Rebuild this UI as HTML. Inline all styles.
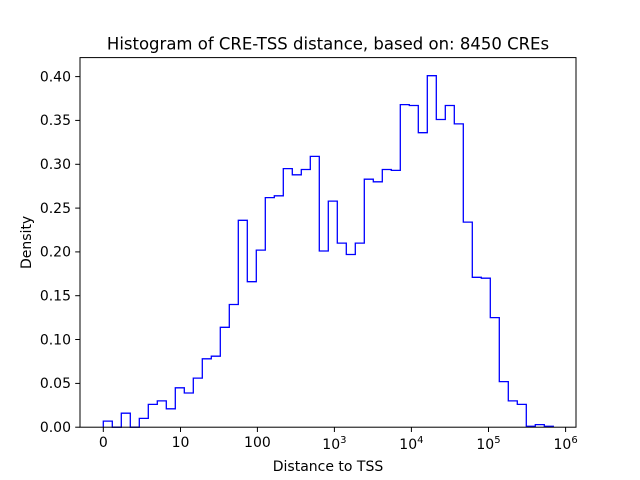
<!DOCTYPE html>
<html><head><meta charset="utf-8"><style>
html,body{margin:0;padding:0;background:#fff;}
svg{display:block;font-family:"DejaVu Sans","Liberation Sans",sans-serif;}
</style></head><body>
<svg width="640" height="480" viewBox="0 0 640 480" xmlns="http://www.w3.org/2000/svg">
<rect width="640" height="480" fill="#fff"/>
<text x="328" y="49.5" font-size="16.5" text-anchor="middle" fill="#000">Histogram of CRE-TSS distance, based on: 8450 CREs</text>
<path fill="none" stroke="#0000ff" stroke-width="1.3" d="M103.3,427.2 V421.1 H112.3 V427.2 H121.3 V413.2 H130.3 V427.2 H139.3 V418.4 H148.3 V404.4 H157.3 V400.9 H166.3 V408.8 H175.3 V387.8 H184.3 V393.0 H193.3 V378.1 H202.3 V358.8 H211.3 V356.2 H220.3 V327.3 H229.3 V304.5 H238.3 V220.3 H247.3 V281.7 H256.3 V250.1 H265.3 V197.6 H274.3 V195.8 H283.3 V168.6 H292.3 V174.8 H301.3 V169.5 H310.3 V156.4 H319.3 V251.0 H328.3 V201.1 H337.3 V243.1 H346.3 V254.5 H355.3 V243.1 H364.3 V179.2 H373.3 V181.8 H382.3 V169.5 H391.3 V170.4 H400.3 V104.6 H409.3 V105.5 H418.3 V132.7 H427.3 V75.7 H436.3 V119.5 H445.3 V105.5 H454.3 V123.9 H463.3 V222.1 H472.3 V277.3 H481.3 V278.2 H490.3 V317.6 H499.3 V381.6 H508.3 V400.9 H517.3 V404.4 H526.3 V426.3 H535.3 V424.6 H544.3 V426.3 H553.3 V427.2"/>
<rect x="80" y="57.6" width="496" height="369.6" fill="none" stroke="#000" stroke-width="1"/>
<g stroke="#000" stroke-width="1">
<line x1="103.3" y1="427.2" x2="103.3" y2="432"/><line x1="180.5" y1="427.2" x2="180.5" y2="432"/><line x1="257.4" y1="427.2" x2="257.4" y2="432"/><line x1="334.4" y1="427.2" x2="334.4" y2="432"/><line x1="411.4" y1="427.2" x2="411.4" y2="432"/><line x1="488.5" y1="427.2" x2="488.5" y2="432"/><line x1="565.6" y1="427.2" x2="565.6" y2="432"/>
<line x1="75.2" y1="427.2" x2="80" y2="427.2"/><line x1="75.2" y1="383.4" x2="80" y2="383.4"/><line x1="75.2" y1="339.5" x2="80" y2="339.5"/><line x1="75.2" y1="295.7" x2="80" y2="295.7"/><line x1="75.2" y1="251.9" x2="80" y2="251.9"/><line x1="75.2" y1="208.1" x2="80" y2="208.1"/><line x1="75.2" y1="164.3" x2="80" y2="164.3"/><line x1="75.2" y1="120.4" x2="80" y2="120.4"/><line x1="75.2" y1="76.6" x2="80" y2="76.6"/>
</g>
<g font-size="14" fill="#000" text-anchor="middle">
<text x="103.3" y="447">0</text><text x="180.5" y="447">10</text><text x="257.4" y="447">100</text>
<text x="334.4" y="449">10<tspan font-size="10" dy="-6">3</tspan></text>
<text x="411.4" y="449">10<tspan font-size="10" dy="-6">4</tspan></text>
<text x="488.5" y="449">10<tspan font-size="10" dy="-6">5</tspan></text>
<text x="565.6" y="449">10<tspan font-size="10" dy="-6">6</tspan></text>
<text x="328" y="471">Distance to TSS</text>
</g>
<g font-size="14" fill="#000" text-anchor="end">
<text x="71" y="432">0.00</text><text x="71" y="388.2">0.05</text><text x="71" y="344.3">0.10</text><text x="71" y="300.5">0.15</text><text x="71" y="256.7">0.20</text><text x="71" y="212.9">0.25</text><text x="71" y="169.1">0.30</text><text x="71" y="125.2">0.35</text><text x="71" y="81.4">0.40</text>
</g>
<text transform="translate(31,242.4) rotate(-90)" font-size="14" text-anchor="middle" fill="#000">Density</text>
</svg>
</body></html>
